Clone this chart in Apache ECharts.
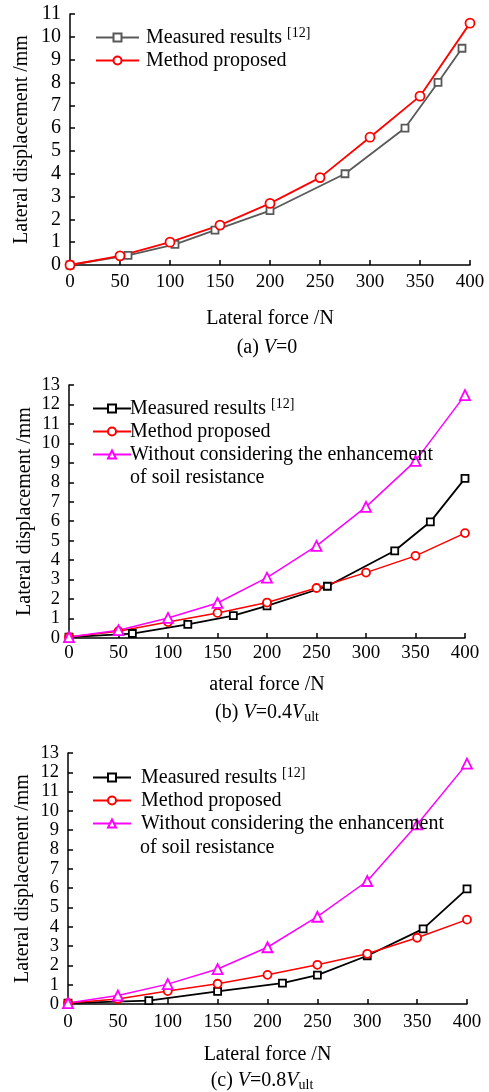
<!DOCTYPE html>
<html><head><meta charset="utf-8">
<script src="https://cdn.jsdelivr.net/npm/echarts@6/dist/echarts.min.js"></script>
<style>html,body{margin:0;padding:0;background:#fff}#c{width:489px;height:1092px}</style>
</head><body><div id="c"></div>
<script>
// Tick labels
const xTicks = [0, 50, 100, 150, 200, 250, 300, 350, 400];
// Panel (a) V=0
const aMeasX = [0, 58, 105, 145, 200, 275, 335, 368, 392];
const aMeasY = [0, 0.42, 0.9, 1.53, 2.38, 4.0, 6.0, 8.0, 9.5];
const aMethX = [0, 50, 100, 150, 200, 250, 300, 350, 400];
const aMethY = [0, 0.4, 1.0, 1.75, 2.7, 3.83, 5.6, 7.4, 10.6];
// Panel (b) V=0.4Vult
const bMeasX = [0, 64, 120, 166, 200, 261, 329, 365, 400];
const bMeasY = [0.05, 0.23, 0.7, 1.15, 1.65, 2.66, 4.48, 5.97, 8.2];
const bMethX = [0, 50, 100, 150, 200, 250, 300, 350, 400];
const bMethY = [0.05, 0.35, 0.82, 1.29, 1.82, 2.57, 3.36, 4.22, 5.39];
const bWithX = [0, 50, 100, 150, 200, 250, 300, 350, 400];
const bWithY = [0.05, 0.4, 1.03, 1.8, 3.1, 4.73, 6.74, 9.1, 12.48];
// Panel (c) V=0.8Vult
const cMeasX = [0, 81, 150, 215, 250, 300, 356, 400];
const cMeasY = [0.05, 0.17, 0.65, 1.08, 1.5, 2.5, 3.89, 5.96];
const cMethX = [0, 50, 100, 150, 200, 250, 300, 350, 400];
const cMethY = [0.05, 0.26, 0.67, 1.05, 1.51, 2.03, 2.6, 3.43, 4.37];
const cWithX = [0, 50, 100, 150, 200, 250, 300, 350, 400];
const cWithY = [0.05, 0.44, 1.03, 1.81, 2.94, 4.52, 6.37, 9.3, 12.45];

const legendText = {
  aMeas: '{t|Measured results }{s|[12]}',
  aMeth: '{t|Method proposed}',
  bMeas: '{t|Measured results }{s|[12]}',
  bMeth: '{t|Method proposed}',
  bWith: '{t|Without considering the enhancement}',
  cMeas: '{t|Measured results }{s|[12]}',
  cMeth: '{t|Method proposed}',
  cWith: '{t|Without considering the enhancement}'
};

const FONT = 'Liberation Serif';
const zip = (xs, ys) => xs.map((x, i) => [x, ys[i]]);

function xAxis(grid, name, gap, margin) {
  return {
    type: 'value', gridIndex: grid, min: 0, max: 400, interval: 50,
    name: name, nameLocation: 'middle', nameGap: gap,
    nameTextStyle: {fontFamily: FONT, fontSize: 20, color: '#000'},
    axisLine: {lineStyle: {color: '#000', width: 1.5}},
    axisTick: {inside: true, length: 5, lineStyle: {color: '#000', width: 1.5}},
    axisLabel: {fontFamily: FONT, fontSize: 19, color: '#000', margin: margin,
      showMinLabel: true, showMaxLabel: true,
      formatter: v => xTicks.indexOf(v) >= 0 ? String(v) : ''},
    splitLine: {show: false}
  };
}
function yAxis(grid, max, gap, fs) {
  return {
    type: 'value', gridIndex: grid, min: 0, max: max, interval: 1,
    name: 'Lateral displacement /mm', nameLocation: 'middle', nameGap: gap, nameMoveOverlap: false,
    nameTextStyle: {fontFamily: FONT, fontSize: 20, color: '#000'},
    axisLine: {show: true, lineStyle: {color: '#000', width: 1.5}},
    axisTick: {show: true, inside: true, length: 5, lineStyle: {color: '#000', width: 1.5}},
    axisLabel: {fontFamily: FONT, fontSize: fs, color: '#000', margin: 9,
      showMinLabel: true, showMaxLabel: true},
    splitLine: {show: false}
  };
}
function ser(name, idx, data, color, symbol, size, width) {
  return {
    name: name, type: 'line', xAxisIndex: idx, yAxisIndex: idx, data: data,
    symbol: symbol, symbolSize: size, showAllSymbol: true,
    lineStyle: {color: color, width: width},
    itemStyle: {color: '#fff', borderColor: color, borderWidth: 1.8},
    animation: false, z: 3
  };
}
function legend(names, left, top, w, pad) {
  return {
    data: names, orient: 'vertical', left: left, top: top,
    itemWidth: w, itemHeight: 10, itemGap: 0, padding: 0,
    formatter: n => legendText[n],
    textStyle: {fontFamily: FONT, fontSize: 20, color: '#000', lineHeight: 23, padding: [0, 0, 0, pad],
      rich: {
        t: {fontFamily: FONT, fontSize: 20, color: '#000', lineHeight: 23},
        s: {fontFamily: FONT, fontSize: 14, color: '#000', lineHeight: 14, verticalAlign: 'top'}
      }}
  };
}
const capRich = {
  n: {fontFamily: FONT, fontSize: 20, fill: '#000', lineHeight: 22},
  i: {fontFamily: FONT, fontSize: 20, fill: '#000', fontStyle: 'italic', lineHeight: 22},
  s: {fontFamily: FONT, fontSize: 14, fill: '#000', lineHeight: 12, verticalAlign: 'bottom'}
};
function caption(text, x, y) {
  return {type: 'text', x: x, y: y, style: {text: text, rich: capRich, align: 'center', verticalAlign: 'middle',
    fontFamily: FONT, fontSize: 20, fill: '#000'}};
}

const chart = echarts.init(document.getElementById('c'), null, {renderer: 'canvas'});
chart.setOption({
  backgroundColor: '#fff',
  animation: false,
  grid: [
    {left: 70, top: 14, width: 400, height: 251},
    {left: 69, top: 385, width: 396, height: 253},
    {left: 68, top: 753, width: 399, height: 251}
  ],
  xAxis: [xAxis(0, 'Lateral force /N', 44, 8), xAxis(1, 'ateral force /N', 37, 6), xAxis(2, 'Lateral force /N', 41, 9)],
  yAxis: [yAxis(0, 11, 38, 20), yAxis(1, 13, 34, 18.5), yAxis(2, 13, 35, 18.5)],
  legend: [
    legend(['aMeas', 'aMeth'], 95, 26, 43, 2),
    legend(['bMeas', 'bMeth', 'bWith'], 92, 397, 38, -6),
    legend(['cMeas', 'cMeth', 'cWith'], 92, 766, 38, 5)
  ],
  graphic: [
    {type: 'text', left: 130, top: 468, style: {text: 'of soil resistance', fontFamily: FONT, fontSize: 20, fill: '#000'}},
    {type: 'text', left: 140, top: 838, style: {text: 'of soil resistance', fontFamily: FONT, fontSize: 20, fill: '#000'}},
    caption('{n|(a) }{i|V}{n|=0}', 267, 348),
    caption('{n|(b) }{i|V}{n|=0.4}{i|V}{s|ult}', 267, 713),
    caption('{n|(c) }{i|V}{n|=0.8}{i|V}{s|ult}', 262, 1081)
  ],
  series: [
    ser('aMeas', 0, zip(aMeasX, aMeasY), '#595959', 'rect', 7, 1.8),
    ser('aMeth', 0, zip(aMethX, aMethY), '#ff0000', 'circle', 9, 1.8),
    ser('bMeas', 1, zip(bMeasX, bMeasY), '#000000', 'rect', 7, 1.8),
    ser('bMeth', 1, zip(bMethX, bMethY), '#ff0000', 'circle', 8, 1.5),
    ser('bWith', 1, zip(bWithX, bWithY), '#ff00ff', 'triangle', 10, 1.5),
    ser('cMeas', 2, zip(cMeasX, cMeasY), '#000000', 'rect', 7, 1.8),
    ser('cMeth', 2, zip(cMethX, cMethY), '#ff0000', 'circle', 8, 1.5),
    ser('cWith', 2, zip(cWithX, cWithY), '#ff00ff', 'triangle', 10, 1.5)
  ]
});
</script></body></html>
